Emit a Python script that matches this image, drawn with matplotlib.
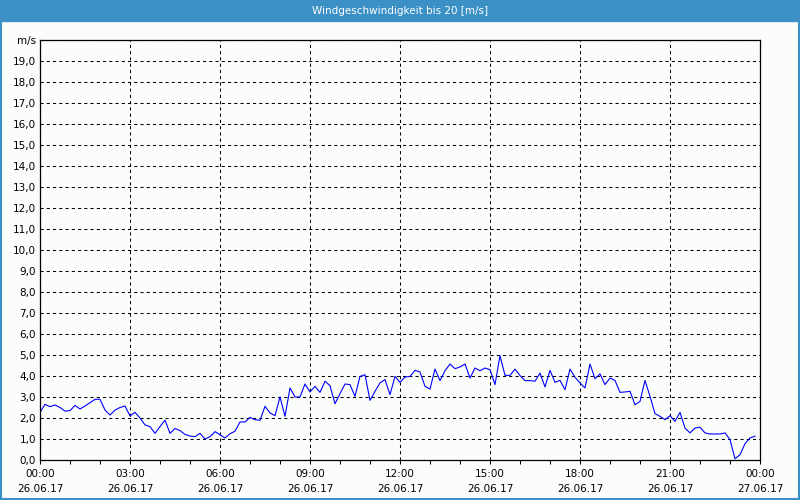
import numpy as np
import matplotlib
matplotlib.use('Agg')
import matplotlib.pyplot as plt
from matplotlib.patches import Rectangle

# wind speed in m/s, 10-minute values from 26.06.17 00:00 to 23:50
wind = [2.27, 2.65, 2.54, 2.62, 2.50, 2.33, 2.35, 2.60, 2.43, 2.57, 2.73, 2.89,
        2.89, 2.38, 2.14, 2.38, 2.50, 2.57, 2.10, 2.27, 2.00, 1.67, 1.59, 1.27,
        1.59, 1.90, 1.27, 1.50, 1.40, 1.22, 1.14, 1.11, 1.27, 1.00, 1.11, 1.35,
        1.20, 1.05, 1.25, 1.37, 1.81, 1.81, 2.03, 1.92, 1.89, 2.56, 2.24, 2.11,
        3.00, 2.08, 3.43, 3.00, 3.00, 3.62, 3.24, 3.51, 3.22, 3.75, 3.54, 2.68,
        3.16, 3.62, 3.59, 3.03, 3.98, 4.06, 2.84, 3.27, 3.67, 3.83, 3.11, 3.98,
        3.70, 3.95, 3.98, 4.27, 4.19, 3.51, 3.38, 4.33, 3.78, 4.25, 4.57, 4.35,
        4.43, 4.57, 3.90, 4.38, 4.25, 4.38, 4.30, 3.59, 4.97, 4.03, 4.03, 4.33,
        4.02, 3.78, 3.78, 3.75, 4.14, 3.48, 4.27, 3.70, 3.79, 3.35, 4.33, 3.94,
        3.67, 3.43, 4.57, 3.87, 4.10, 3.59, 3.90, 3.79, 3.22, 3.24, 3.27, 2.63,
        2.79, 3.79, 3.03, 2.21, 2.08, 1.92, 2.11, 1.84, 2.27, 1.52, 1.29, 1.52,
        1.56, 1.29, 1.24, 1.24, 1.24, 1.29, 0.97, 0.06, 0.25, 0.78, 1.05, 1.13]
hours = np.arange(len(wind)) / 6.0

xticks = [0, 3, 6, 9, 12, 15, 18, 21, 24]
xlabels = ['00:00\n26.06.17', '03:00\n26.06.17', '06:00\n26.06.17', '09:00\n26.06.17',
           '12:00\n26.06.17', '15:00\n26.06.17', '18:00\n26.06.17', '21:00\n26.06.17',
           '00:00\n27.06.17']
yticks = list(range(0, 21))
ylabels = [('%.1f' % v).replace('.', ',') for v in range(0, 20)] + ['m/s']

title = 'Windgeschwindigkeit bis 20 [m/s]'
bar_blue = '#3b90c6'
bg = '#fbfdfb'

fig = plt.figure(figsize=(8, 5), dpi=100, facecolor=bg)
ax = fig.add_axes([0.05, 0.08, 0.9, 0.84], facecolor=bg)

ax.plot(hours, wind, color='#0000ff', lw=0.8)

ax.set_xlim(0, 24)
ax.set_ylim(0, 20)
ax.set_xticks(xticks)
ax.set_xticklabels(xlabels, fontsize=7.5, linespacing=1.65)
ax.set_xticks(range(0, 25), minor=True)
ax.set_yticks(yticks)
ax.set_yticklabels(ylabels, fontsize=7.5)
ax.tick_params(axis='x', which='both', direction='out', length=3, width=0.75, pad=3.5)
ax.tick_params(axis='y', length=0, pad=3)

ax.grid(True, which='major', color='black', ls=(0, (3, 3)), lw=0.75)
for s in ax.spines.values():
    s.set_linewidth(0.9)
    s.set_color('black')

# title bar and frame
fig.patches.append(Rectangle((0, 1 - 21 / 500), 1, 21 / 500, transform=fig.transFigure,
                             color=bar_blue, zorder=0))
fig.patches.append(Rectangle((0.001, 0.002), 0.998, 0.996, transform=fig.transFigure,
                             fill=False, edgecolor=bar_blue, lw=1.5))
fig.text(0.5, 1 - 10.5 / 500, title, color='white', fontsize=7.5,
         ha='center', va='center')

fig.savefig('out.png', dpi=100, facecolor=bg)
